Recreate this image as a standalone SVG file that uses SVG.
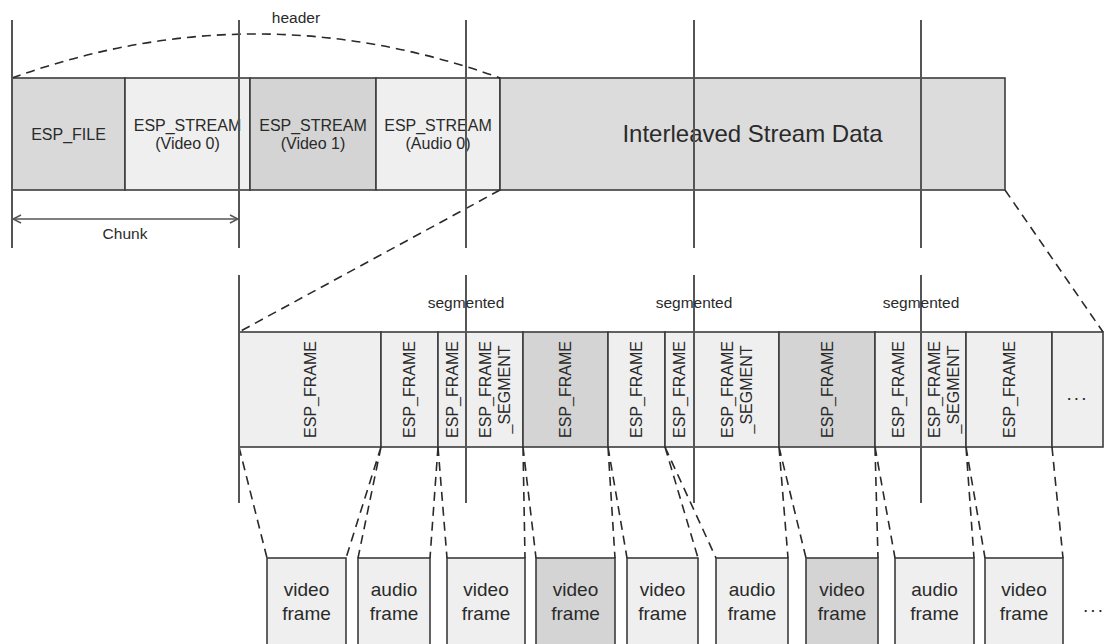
<svg xmlns="http://www.w3.org/2000/svg" width="1105" height="644" viewBox="0 0 1105 644">
<defs>
<style>
.box{stroke:#3c3c3c;stroke-width:1.6}
.lt{fill:#efefef}
.dk{fill:#d4d4d4}
.md{fill:#dcdcdc}
.fl{fill:#d9d9d9}
.vl{stroke:#555;stroke-width:2;fill:none}
.dash{stroke:#2a2a2a;stroke-width:1.6;stroke-dasharray:9 6;fill:none}
text{font-family:"Liberation Sans",Arial,sans-serif;fill:#2a2a2a}
.t16{font-size:16px}
.t15{font-size:15.5px}
.t19{font-size:19px}
.big{font-size:24px}
</style>
<marker id="chev" viewBox="0 0 10 10" refX="9" refY="5" markerWidth="10" markerHeight="10" markerUnits="userSpaceOnUse" orient="auto-start-reverse">
<path d="M1,1 L9,5 L1,9" fill="none" stroke="#555" stroke-width="1.5"/>
</marker>
</defs>
<rect width="1105" height="644" fill="#fff"/>

<!-- top bar -->
<g id="esp_file"><rect class="box fl" x="12" y="78" width="113" height="112"/><text class="t16" x="68.5" y="140" text-anchor="middle">ESP_FILE</text></g>
<g id="stream_v0"><rect class="box lt" x="125" y="78" width="125" height="112"/><text class="t16" x="187.5" y="131" text-anchor="middle">ESP_STREAM</text><text class="t16" x="187.5" y="149" text-anchor="middle">(Video 0)</text></g>
<g id="stream_v1"><rect class="box dk" x="250" y="78" width="126" height="112"/><text class="t16" x="313" y="131" text-anchor="middle">ESP_STREAM</text><text class="t16" x="313" y="149" text-anchor="middle">(Video 1)</text></g>
<g id="stream_a0"><rect class="box lt" x="376" y="78" width="124" height="112"/><text class="t16" x="438" y="131" text-anchor="middle">ESP_STREAM</text><text class="t16" x="438" y="149" text-anchor="middle">(Audio 0)</text></g>
<g id="interleaved"><rect class="box md" x="500" y="78" width="505" height="112"/><text class="big" x="752.5" y="142" text-anchor="middle">Interleaved Stream Data</text></g>

<!-- lower bar -->
<g id="f1"><rect class="box lt" x="239" y="332" width="142" height="115"/><text class="t16" transform="translate(310,389.5) rotate(-90)" y="5.7" text-anchor="middle">ESP_FRAME</text></g>
<g id="f2"><rect class="box lt" x="381" y="332" width="57" height="115"/><text class="t16" transform="translate(409.5,389.5) rotate(-90)" y="5.7" text-anchor="middle">ESP_FRAME</text></g>
<g id="f3"><rect class="box lt" x="438" y="332" width="28" height="115"/><text class="t16" transform="translate(452,389.5) rotate(-90)" y="5.7" text-anchor="middle">ESP_FRAME</text></g>
<g id="f4"><rect class="box lt" x="466" y="332" width="57" height="115"/><text class="t16" transform="translate(494.5,389.5) rotate(-90)" text-anchor="middle"><tspan x="0" y="-4">ESP_FRAME</tspan><tspan x="0" y="15">_SEGMENT</tspan></text></g>
<g id="f5"><rect class="box dk" x="523" y="332" width="85" height="115"/><text class="t16" transform="translate(565.5,389.5) rotate(-90)" y="5.7" text-anchor="middle">ESP_FRAME</text></g>
<g id="f6"><rect class="box lt" x="608" y="332" width="57" height="115"/><text class="t16" transform="translate(636.5,389.5) rotate(-90)" y="5.7" text-anchor="middle">ESP_FRAME</text></g>
<g id="f7"><rect class="box lt" x="665" y="332" width="29" height="115"/><text class="t16" transform="translate(679.5,389.5) rotate(-90)" y="5.7" text-anchor="middle">ESP_FRAME</text></g>
<g id="f8"><rect class="box lt" x="694" y="332" width="85" height="115"/><text class="t16" transform="translate(736.5,389.5) rotate(-90)" text-anchor="middle"><tspan x="0" y="-4">ESP_FRAME</tspan><tspan x="0" y="15">_SEGMENT</tspan></text></g>
<g id="f9"><rect class="box dk" x="779" y="332" width="96" height="115"/><text class="t16" transform="translate(827,389.5) rotate(-90)" y="5.7" text-anchor="middle">ESP_FRAME</text></g>
<g id="f10"><rect class="box lt" x="875" y="332" width="46" height="115"/><text class="t16" transform="translate(898,389.5) rotate(-90)" y="5.7" text-anchor="middle">ESP_FRAME</text></g>
<g id="f11"><rect class="box lt" x="921" y="332" width="45" height="115"/><text class="t16" transform="translate(943.5,389.5) rotate(-90)" text-anchor="middle"><tspan x="0" y="-4">ESP_FRAME</tspan><tspan x="0" y="15">_SEGMENT</tspan></text></g>
<g id="f12"><rect class="box lt" x="966" y="332" width="86" height="115"/><text class="t16" transform="translate(1009,389.5) rotate(-90)" y="5.7" text-anchor="middle">ESP_FRAME</text></g>
<g id="f13"><rect class="box lt" x="1052" y="332" width="51" height="115"/><text class="t19" x="1077.5" y="400" text-anchor="middle" letter-spacing="2">...</text></g>

<!-- bottom frames -->
<g id="b1"><rect class="box lt" x="267" y="558" width="79" height="95"/><text class="t19" x="306.5" y="596" text-anchor="middle">video</text><text class="t19" x="306.5" y="620" text-anchor="middle">frame</text></g>
<g id="b2"><rect class="box lt" x="358" y="558" width="72" height="95"/><text class="t19" x="394" y="596" text-anchor="middle">audio</text><text class="t19" x="394" y="620" text-anchor="middle">frame</text></g>
<g id="b3"><rect class="box lt" x="447" y="558" width="78" height="95"/><text class="t19" x="486" y="596" text-anchor="middle">video</text><text class="t19" x="486" y="620" text-anchor="middle">frame</text></g>
<g id="b4"><rect class="box dk" x="536" y="558" width="79" height="95"/><text class="t19" x="575.5" y="596" text-anchor="middle">video</text><text class="t19" x="575.5" y="620" text-anchor="middle">frame</text></g>
<g id="b5"><rect class="box lt" x="627" y="558" width="71" height="95"/><text class="t19" x="662.5" y="596" text-anchor="middle">video</text><text class="t19" x="662.5" y="620" text-anchor="middle">frame</text></g>
<g id="b6"><rect class="box lt" x="716" y="558" width="72" height="95"/><text class="t19" x="752" y="596" text-anchor="middle">audio</text><text class="t19" x="752" y="620" text-anchor="middle">frame</text></g>
<g id="b7"><rect class="box dk" x="806" y="558" width="72" height="95"/><text class="t19" x="842" y="596" text-anchor="middle">video</text><text class="t19" x="842" y="620" text-anchor="middle">frame</text></g>
<g id="b8"><rect class="box lt" x="895" y="558" width="79" height="95"/><text class="t19" x="934.5" y="596" text-anchor="middle">audio</text><text class="t19" x="934.5" y="620" text-anchor="middle">frame</text></g>
<g id="b9"><rect class="box lt" x="985" y="558" width="78" height="95"/><text class="t19" x="1024" y="596" text-anchor="middle">video</text><text class="t19" x="1024" y="620" text-anchor="middle">frame</text></g>
<text class="t19" x="1094" y="612" text-anchor="middle" letter-spacing="2">...</text>

<!-- connectors -->
<g id="connectors">
<path class="dash" d="M12,78 Q256,-10 500,78"/>
<path class="dash" d="M500,190 L239,332"/>
<path class="dash" d="M1005,190 L1103,332"/>
<path class="dash" d="M239,447 L267,558"/>
<path class="dash" d="M381,447 L346,558 M381,447 L358,558"/>
<path class="dash" d="M438,447 L430,558 M438,447 L447,558"/>
<path class="dash" d="M523,447 L525,558 M523,447 L536,558"/>
<path class="dash" d="M608,447 L615,558 M608,447 L627,558"/>
<path class="dash" d="M665,447 L698,558 M665,447 L716,558"/>
<path class="dash" d="M779,447 L788,558 M779,447 L806,558"/>
<path class="dash" d="M875,447 L878,558 M875,447 L895,558"/>
<path class="dash" d="M966,447 L974,558 M966,447 L985,558"/>
<path class="dash" d="M1052,447 L1063,558"/>
<line x1="13" y1="219" x2="238" y2="219" stroke="#555" stroke-width="1.6" marker-start="url(#chev)" marker-end="url(#chev)"/>
</g>

<!-- vertical guide lines -->
<g id="guides">
<path class="vl" d="M12,20 V248 M239,20 V248 M466,20 V248 M694,20 V248 M921,20 V248"/>
<path class="vl" d="M239,275 V503 M466,275 V503 M694,275 V503 M921,275 V503"/>
</g>

<g id="labels">
<text class="t15" x="296" y="23" text-anchor="middle">header</text>
<text class="t15" x="125" y="239" text-anchor="middle">Chunk</text>
<text class="t15" x="466" y="308" text-anchor="middle">segmented</text>
<text class="t15" x="694" y="308" text-anchor="middle">segmented</text>
<text class="t15" x="921" y="308" text-anchor="middle">segmented</text>
</g>
</svg>
